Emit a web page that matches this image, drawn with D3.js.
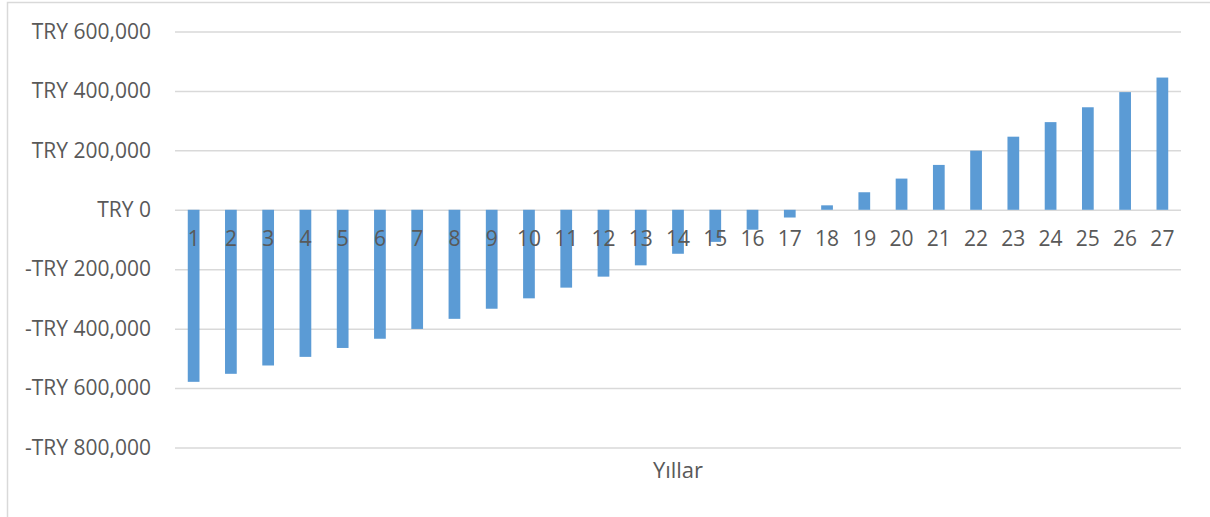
<!DOCTYPE html>
<html>
<head>
<meta charset="utf-8">
<script src="https://cdn.jsdelivr.net/npm/d3@7"></script>
<style>
  html, body { margin: 0; padding: 0; background: #fff; }
  svg { display: block; }
  text { font-family: "Open Sans", "Liberation Sans", sans-serif; fill: #595959; }
</style>
</head>
<body>
<svg id="chart" width="1210" height="517"></svg>
<script>
// Yearly cumulative cash position (TRY)
const years = d3.range(1, 28).map(String);
const cashFlow = [
  -579000, -552000, -524000, -495000, -465000, -434000, -401000, -367000, -333000,
  -298000, -262000, -225000, -187000, -148000, -108000, -67000, -26000,
  15000, 59000, 105000, 151000, 199000, 246000, 295000, 345000, 396000, 445000
];
const yTicks = [600000, 400000, 200000, 0, -200000, -400000, -600000, -800000];
const xTitle = "Yıllar";

const svg = d3.select("#chart");
const W = 1210, H = 517;
const plot = { left: 175, right: 1181, top: 31.5, bottom: 447.5 };

// chart area frame
svg.append("rect")
  .attr("x", 7.5).attr("y", 2.5)
  .attr("width", W + 10).attr("height", H + 10)
  .attr("fill", "#fff").attr("stroke", "#d9d9d9").attr("stroke-width", 1.5);

const x = d3.scaleBand().domain(years).range([plot.left, plot.right])
  .paddingInner(0.685).paddingOuter(0.3425);
const y = d3.scaleLinear().domain([-800000, 600000]).range([plot.bottom, plot.top]);

const fmt = v => (v < 0 ? "-" : "") + "TRY " + d3.format(",")(Math.abs(v));

// gridlines + value labels
const yAxis = d3.axisLeft(y).tickValues(yTicks).tickFormat(fmt)
  .tickSize(-(plot.right - plot.left)).tickPadding(24);
const gy = svg.append("g").attr("transform", `translate(${plot.left},0)`).call(yAxis);
gy.select(".domain").remove();
gy.selectAll(".tick line").attr("stroke", "#d9d9d9").attr("stroke-width", 1.5);
gy.selectAll(".tick text")
  .attr("font-size", 21).attr("fill", "#595959")
  .style("font-family", '"Open Sans", "Liberation Sans", sans-serif');

// bars
svg.append("g").selectAll("rect")
  .data(years.map((yr, i) => ({ yr, v: cashFlow[i] })))
  .join("rect")
  .attr("x", d => x(d.yr))
  .attr("width", x.bandwidth())
  .attr("y", d => y(Math.max(0, d.v)))
  .attr("height", d => Math.abs(y(d.v) - y(0)))
  .attr("fill", "#5b9bd5");

// category labels sit below the zero line, drawn over the bars
const xAxis = d3.axisBottom(x).tickSize(0).tickPadding(21);
const gx = svg.append("g").attr("transform", `translate(0,${y(0)})`).call(xAxis);
gx.select(".domain").remove();
gx.selectAll(".tick text")
  .attr("font-size", 21).attr("fill", "#595959")
  .style("font-family", '"Open Sans", "Liberation Sans", sans-serif');

// axis title
svg.append("text")
  .attr("x", (plot.left + plot.right) / 2)
  .attr("y", 478)
  .attr("text-anchor", "middle")
  .attr("font-size", 22)
  .text(xTitle);
</script>
</body>
</html>
